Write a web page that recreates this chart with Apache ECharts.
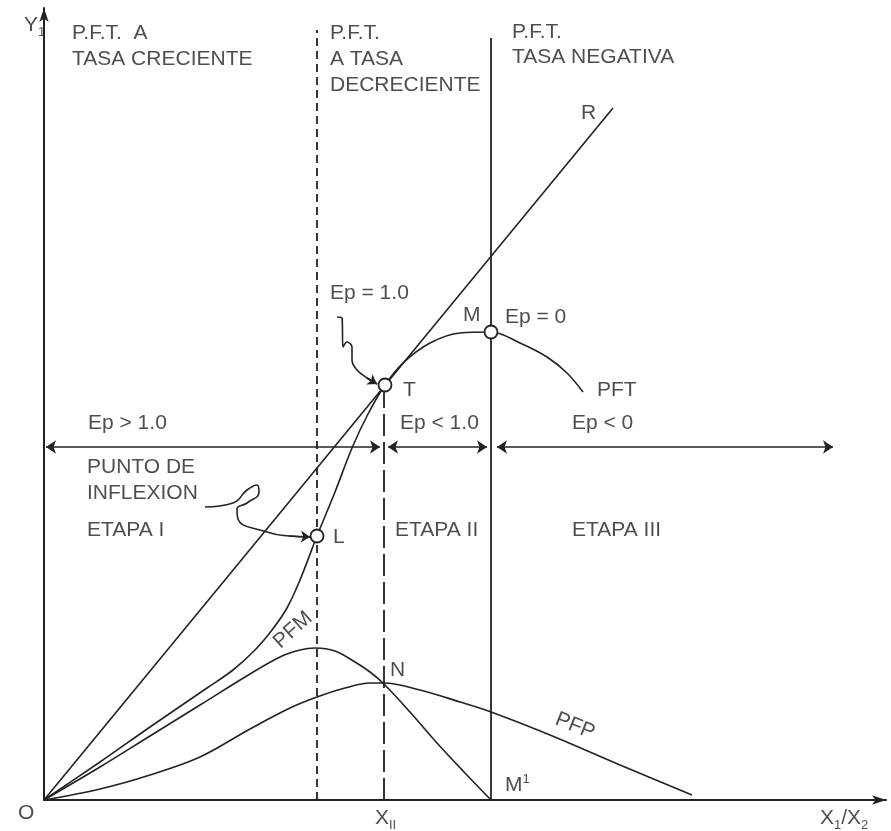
<!DOCTYPE html>
<html>
<head>
<meta charset="utf-8">
<script src="https://cdn.jsdelivr.net/npm/echarts@6/dist/echarts.min.js"></script>
<style>
  html, body { margin: 0; padding: 0; background: #fff; }
  #main { width: 891px; height: 831px; }
</style>
</head>
<body>
<div id="main"></div>
<script>
// unidades del dibujo: origen O = [0, 0]
var rayoOR = [[0, 0], [569, 692]];
var curvaPFT = [[0, 0], [56, 38], [106, 73], [163, 112], [189, 130], [211, 150], [228, 170], [243, 192], [256, 220],
  [273, 264], [291, 308], [308, 352], [324, 386], [341, 415], [359, 437], [386, 457], [416, 467],
  [447, 468], [476, 457], [503, 443], [523, 427], [539, 408]];
var curvaPFM = [[0, 0], [56, 33], [106, 64], [156, 95], [206, 126], [236, 143], [256, 150], [271, 152],
  [291, 149], [311, 138], [326, 128], [340, 116], [366, 88], [393, 57], [421, 27], [447, 0]];
var curvaPFP = [[0, 0], [56, 11], [106, 25], [156, 43], [206, 71], [246, 92], [273, 103], [301, 112],
  [326, 117], [340, 117], [376, 110], [416, 98], [447, 88], [506, 65], [576, 35], [648, 5]];

// puntos L, T, M
var puntos = [[273, 264], [341, 415], [447, 468]];

// divisiones de etapas
var xL = 273, xII = 340, xM = 447;
var topeL = 770, topeII = 415, topeM = 762;

// flechas de elasticidad
var nivelEp = 353;
var tramosEp = [[2, 336], [344, 443], [453, 789]];

// flechas a mano
var flechaEp1 = [[293, 483], [298, 482], [299, 453], [303, 458], [308, 453], [308, 440], [313, 430], [323, 422], [333, 416]];
var flechaInflexion = [[161, 293], [189, 297], [203, 310], [213, 315], [215, 308], [203, 297], [193, 291],
  [194, 281], [223, 268], [245, 264], [266, 263]];

// textos: [x, y, texto, alineacion, giro]
var textos = [
  [-20, 775, 'Y{s|1}', 'left', 0],
  [28, 767, 'P.F.T.  A', 'left', 0],
  [28, 741, 'TASA CRECIENTE', 'left', 0],
  [286, 767, 'P.F.T.', 'left', 0],
  [286, 741, 'A TASA', 'left', 0],
  [286, 715, 'DECRECIENTE', 'left', 0],
  [468, 768, 'P.F.T.', 'left', 0],
  [468, 743, 'TASA NEGATIVA', 'left', 0],
  [537, 687, 'R', 'left', 0],
  [286, 507, 'Ep = 1.0', 'left', 0],
  [419, 485, 'M', 'left', 0],
  [461, 483, 'Ep = 0', 'left', 0],
  [359, 410, 'T', 'left', 0],
  [553, 410, 'PFT', 'left', 0],
  [44, 377, 'Ep > 1.0', 'left', 0],
  [356, 377, 'Ep < 1.0', 'left', 0],
  [528, 377, 'Ep < 0', 'left', 0],
  [43, 333, 'PUNTO DE', 'left', 0],
  [43, 307, 'INFLEXION', 'left', 0],
  [43, 270, 'ETAPA I', 'left', 0],
  [289, 263, 'L', 'left', 0],
  [351, 270, 'ETAPA II', 'left', 0],
  [528, 270, 'ETAPA III', 'left', 0],
  [249, 170, 'PFM', 'center', 42],
  [346, 130, 'N', 'left', 0],
  [531, 74, 'PFP', 'center', -22],
  [461, 15, 'M{p|1}', 'left', 0],
  [-26, -13, 'O', 'left', 0],
  [331, -18, 'X{s|II}', 'left', 0],
  [776, -18, 'X{s|1}/X{s|2}', 'left', 0]
];

var tinta = '#222';

var dom = document.getElementById('main');
var myChart = echarts.init(dom, null, { renderer: 'canvas' });

function linea(datos, tipo) {
  return {
    type: 'line',
    data: datos,
    showSymbol: false,
    symbol: 'none',
    smooth: 0.35,
    silent: true,
    clip: false,
    lineStyle: { color: tinta, width: 1.6, type: tipo || 'solid' }
  };
}

function vertical(x, tope, tipo) {
  var s = linea([[x, 0], [x, tope]], tipo);
  s.smooth = false;
  s.lineStyle.width = 1.8;
  return s;
}

function puntaFlecha(datos) {
  var n = datos.length;
  return {
    silent: true,
    symbol: ['none', 'arrow'],
    symbolSize: 9,
    label: { show: false },
    lineStyle: { color: tinta, width: 1.6, type: 'solid' },
    data: [[{ coord: datos[n - 2] }, { coord: datos[n - 1] }]]
  };
}

var serieEp1 = linea(flechaEp1);
serieEp1.smooth = 0.4;
serieEp1.markLine = puntaFlecha(flechaEp1);

var serieInfl = linea(flechaInflexion);
serieInfl.smooth = 0.5;
serieInfl.markLine = puntaFlecha(flechaInflexion);

var option = {
  animation: false,
  backgroundColor: '#fff',
  textStyle: { fontFamily: 'Liberation Sans, Arial, sans-serif' },
  grid: { left: 44, right: 5, top: 8, bottom: 31 },
  xAxis: {
    type: 'value', min: 0, max: 842,
    axisLine: { onZero: false, symbol: ['none', 'arrow'], symbolSize: [7, 14], lineStyle: { color: tinta, width: 2 } },
    axisTick: { show: false }, axisLabel: { show: false }, splitLine: { show: false }
  },
  yAxis: {
    type: 'value', min: 0, max: 792,
    axisLine: { show: true, onZero: false, symbol: ['none', 'arrow'], symbolSize: [7, 14], lineStyle: { color: tinta, width: 2 } },
    axisTick: { show: false }, axisLabel: { show: false }, splitLine: { show: false }
  },
  series: [
    linea(rayoOR),
    linea(curvaPFT),
    linea(curvaPFM),
    linea(curvaPFP),
    vertical(xL, topeL, [8, 5]),
    vertical(xII, topeII, [22, 6]),
    vertical(xM, topeM),
    {
      type: 'lines',
      coordinateSystem: 'cartesian2d',
      silent: true,
      symbol: ['arrow', 'arrow'],
      symbolSize: 10,
      lineStyle: { color: tinta, width: 1.6, opacity: 1, curveness: 0 },
      data: tramosEp.map(function (t) { return { coords: [[t[0], nivelEp], [t[1], nivelEp]] }; })
    },
    serieEp1,
    serieInfl,
    {
      type: 'scatter',
      silent: true,
      symbol: 'circle',
      symbolSize: 13,
      itemStyle: { color: '#fff', borderColor: tinta, borderWidth: 1.8, opacity: 1 },
      z: 5,
      data: puntos
    },
    {
      type: 'scatter',
      silent: true,
      clip: false,
      symbolSize: 0,
      z: 6,
      data: textos.map(function (t) {
        return {
          value: [t[0], t[1]],
          label: {
            show: true,
            position: [0, 0],
            formatter: t[2],
            align: t[3],
            verticalAlign: 'middle',
            rotate: t[4],
            color: tinta,
            fontSize: 21,
            lineHeight: 24,
            rich: {
              s: { fontSize: 13, verticalAlign: 'bottom', lineHeight: 28, color: tinta },
              p: { fontSize: 13, verticalAlign: 'top', lineHeight: 18, color: tinta }
            }
          }
        };
      })
    }
  ]
};

if (option && typeof option === 'object') {
  myChart.setOption(option);
}

window.addEventListener('resize', myChart.resize);
</script>
</body>
</html>
